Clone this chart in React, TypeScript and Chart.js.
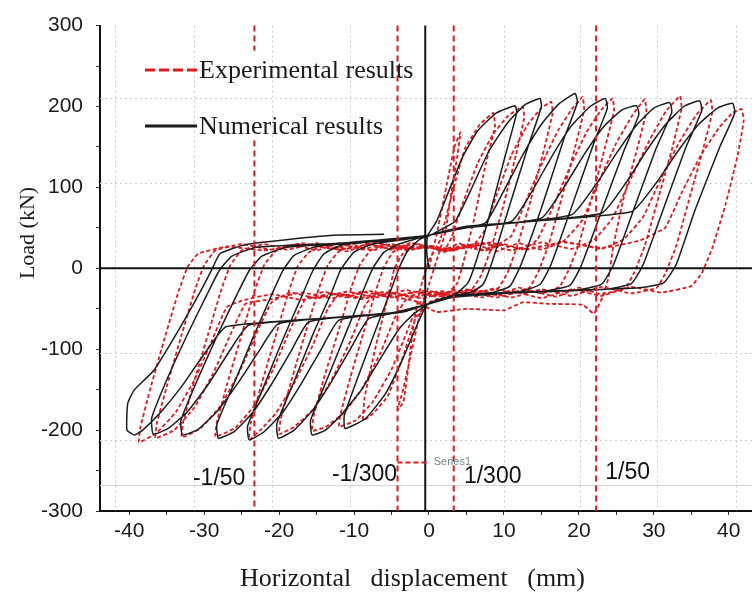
import { useEffect, useRef } from 'react';
import { Chart, registerables } from 'chart.js';

Chart.register(...registerables);

// ---------- axis ranges & ticks ----------
const xRange = [-43.9, 43.1];
const yRange = [-300, 300];
const xLabelStep = 10;
const yLabelStep = 100;

// ---------- reference lines ----------
const gridX = [-41.9, -31.4, -20.9, -10.6, 10, 20.1, 30.4, 40.9];
const gridY = [210, 105, -105, -212];
const faintLineY = -268;
const zeroLineX = -0.5;
// [x, yFrom, yTo]
const driftSegments = [
  [-23.3, 300, 269],
  [-23.3, 158, -300],
  [-4.2, 300, -300],
  [3.3, 300, -300],
  [22.3, 300, -300],
];
const driftLabels = ['-1/50', '-1/300', '1/300', '1/50'];
const driftLabelPos = [
  [-28, -260],
  [-8.6, -255],
  [8.5, -258],
  [26.5, -252],
];
const series1Line = [[-4.2, -240], [-0.3, -240]];

// ---------- numerical results (black) ----------
const numStart = [[0, 0], [-0.3, 20], [-0.2, 40]];
const numCycle1 = [[1, 58], [2.5, 92], [4.5, 138], [6.5, 170], [9, 192], [11.5, 201], [11.7, 192], [10.2, 140], [8.2, 70], [6.5, 15], [5.2, -18], [3.5, -32], [1.5, -38], [-0.3, -45], [-1.5, -68], [-3.5, -112], [-5.8, -155], [-8.5, -186], [-11.2, -198], [-11.3, -182], [-9.5, -135], [-7.2, -78], [-5.2, -30], [-4, 0], [-2.8, 22], [-1.2, 36], [0, 40]];
const numCycle2 = [[2, 50], [3.5, 58], [5.5, 95], [8, 145], [10.5, 180], [12.8, 202], [14.8, 210], [15, 200], [13.2, 150], [10.5, 70], [8.5, 10], [7.2, -20], [5.5, -30], [2.5, -35], [0, -44], [-2, -56], [-4, -75], [-6.5, -112], [-9, -150], [-11.8, -182], [-13.8, -200], [-15.6, -206], [-15.8, -188], [-13.5, -135], [-11, -78], [-8.8, -28], [-7.5, 0], [-6, 20], [-4, 30], [-1.5, 37], [0, 41]];
const numCycle3 = [[3, 48], [7.5, 56], [10, 96], [12.5, 140], [15, 178], [17.3, 203], [19.5, 216], [19.8, 205], [18, 160], [15.2, 80], [12.3, 5], [10.8, -22], [8.5, -30], [4, -34], [0, -44], [-3, -53], [-8, -62], [-10.5, -100], [-13, -140], [-15.5, -175], [-18, -200], [-20.1, -210], [-20.3, -192], [-18, -140], [-15.5, -82], [-13, -30], [-11.8, -2], [-10, 20], [-7.5, 30], [-3, 36], [0, 41]];
const numCycle4 = [[4, 49], [11, 58], [13.8, 96], [16.5, 140], [19, 176], [21.5, 200], [23.5, 210], [23.8, 198], [22, 155], [19, 75], [16.3, 5], [14.8, -20], [12, -29], [6, -32], [2, -37], [0, -44], [-4, -54], [-12, -64], [-14.5, -102], [-17, -142], [-19.5, -178], [-22, -202], [-24, -212], [-24.2, -195], [-22, -145], [-19.5, -88], [-17, -35], [-15.5, -3], [-14, 18], [-11.5, 29], [-6, 34], [0, 41]];
const numCycle5 = [[5, 50], [15, 62], [18, 100], [20.8, 142], [23.3, 175], [25.8, 196], [27.7, 201], [28, 190], [26, 145], [23, 70], [20.3, 3], [18.8, -21], [15.5, -28], [8, -31], [2, -37], [0, -44], [-5, -55], [-16, -66], [-18.5, -104], [-21, -143], [-23.5, -178], [-26, -202], [-28.1, -210], [-28.3, -193], [-26, -142], [-23.5, -86], [-21, -33], [-19.5, -3], [-18, 16], [-15, 27], [-8, 33], [0, 41]];
const numCycle6 = [[5, 50], [19, 66], [22.3, 104], [25, 142], [27.6, 176], [30, 198], [32.1, 205], [32.4, 193], [30.3, 148], [27.3, 72], [24.6, 4], [23, -20], [19.5, -27], [10, -31], [3, -36], [0, -44], [-5, -55], [-20, -68], [-22.8, -104], [-25.5, -142], [-28.2, -176], [-30.8, -199], [-32.9, -206], [-33.1, -188], [-31, -140], [-28.3, -84], [-25.6, -32], [-24, -3], [-22.3, 15], [-19, 26], [-10, 32], [0, 41]];
const numCycle7 = [[5, 51], [23, 68], [26.3, 106], [29, 145], [31.6, 178], [34, 200], [36.1, 207], [36.4, 195], [34.3, 150], [31.3, 74], [28.6, 5], [27, -19], [23.5, -26], [12, -30], [3, -36], [0, -44], [-5, -56], [-24, -70], [-26.8, -105], [-29.5, -144], [-32.2, -177], [-34.8, -198], [-36.8, -205], [-37, -185], [-35, -138], [-32.3, -83], [-29.6, -32], [-28, -3], [-26.3, 15], [-23, 26], [-12, 31], [0, 41]];
const numCycle8 = [[5, 52], [27, 70], [30.5, 108], [33.3, 146], [36, 178], [38.5, 198], [40.5, 204], [40.8, 192], [38.8, 150], [35.5, 72], [33, 5], [31.3, -18], [28, -24], [14, -29], [3, -36], [0, -44], [-5, -56], [-27, -72], [-30, -106], [-33, -146], [-35.8, -178], [-38.2, -200], [-39.3, -206], [-40.3, -200], [-40.2, -167], [-39.3, -150], [-36.7, -126], [-33.2, -73], [-30.4, -27], [-29, -2], [-27.9, 18], [-25, 28], [-22.5, 32], [-12.8, 41], [-6, 42]];

// ---------- experimental results (red dashed) ----------
const expStart = [[0, 0], [1.2, 50], [2.4, 105], [3.4, 150], [4.2, 168], [3.8, 140], [3, 95], [2.2, 45], [1.2, 15], [0, -20], [-1.3, -60], [-2.5, -110], [-3.5, -152], [-4.2, -175], [-3.4, -165], [-2.8, -125], [-2.2, -80], [-1.3, -30], [0, 10]];
const expEarly = [[1.5, 35], [3, 90], [4.8, 148], [6.8, 178], [8.6, 192], [8.8, 175], [7.6, 130], [6, 60], [4.8, 15], [3.8, -18], [2, -35], [0, -42], [-1.8, -62], [-3.5, -110], [-5.5, -158], [-7.5, -180], [-8.8, -188], [-8.6, -160], [-7.2, -100], [-5.6, -40], [-4.6, 0], [-3.5, 18], [-1.5, 30], [0, 26]];
const expCycle1 = [[2, 22], [3, 38], [4.5, 80], [6.5, 130], [8.5, 165], [10.5, 188], [12.5, 200], [12.7, 186], [11.6, 140], [10, 80], [8.3, 25], [7, -8], [5.8, -25], [3.5, -31], [1.5, -28], [0, -33], [-1.5, -45], [-3, -80], [-5, -125], [-7.5, -165], [-9.8, -188], [-12, -196], [-11.8, -180], [-10.5, -135], [-8.6, -75], [-7, -25], [-6, 2], [-4.8, 20], [-3, 28], [-1.5, 24], [0, 27]];
const expCycle2 = [[2, 22], [4, 31], [5.5, 24], [7.3, 45], [9, 90], [11, 140], [13.2, 178], [15, 198], [16.3, 206], [16.5, 192], [15.3, 145], [13.6, 85], [11.8, 28], [10.5, -5], [9.3, -24], [7, -30], [5, -26], [3, -33], [1, -29], [-1, -34], [-3, -38], [-4.5, -60], [-6.5, -105], [-9, -150], [-11.5, -180], [-13.8, -196], [-15.6, -201], [-15.4, -183], [-14, -135], [-12, -75], [-10.3, -22], [-9.2, 5], [-7.8, 22], [-6, 29], [-4, 24], [-2, 31], [0, 26]];
const expCycle3 = [[2, 20], [4.5, 29], [7, 22], [9.5, 31], [11, 40], [12.8, 80], [15, 128], [17.2, 170], [19, 196], [20.5, 212], [20.7, 196], [19.5, 150], [17.8, 90], [16, 30], [14.6, -4], [13.4, -24], [11, -30], [8.5, -25], [6, -32], [3.5, -27], [1, -33], [-2, -29], [-4.5, -35], [-7, -31], [-8.5, -45], [-10.5, -90], [-13, -138], [-15.5, -175], [-18, -196], [-20, -205], [-19.8, -187], [-18.4, -140], [-16.5, -80], [-14.7, -25], [-13.5, 4], [-12, 21], [-10, 28], [-7.5, 22], [-5, 30], [-2.5, 24], [0, 28]];
const expCycle4 = [[2.5, 21], [5, 30], [7.5, 22], [10, 30], [12.5, 23], [14.5, 36], [16.5, 75], [18.8, 125], [21, 168], [23, 196], [24.5, 210], [24.7, 195], [23.5, 150], [21.8, 90], [20, 30], [18.6, -3], [17.4, -23], [15, -31], [12, -24], [9, -33], [6, -26], [3, -34], [0, -28], [-3, -35], [-6, -29], [-9, -36], [-12, -32], [-13.5, -50], [-15.5, -95], [-18, -142], [-20.5, -180], [-22.5, -200], [-24, -212], [-23.8, -192], [-22.4, -145], [-20.5, -85], [-18.7, -28], [-17.5, 3], [-16, 20], [-14, 28], [-11, 21], [-8, 30], [-5, 23], [-2.5, 31], [0, 25]];
const expCycle5 = [[3, 22], [6, 30], [9, 21], [12, 31], [15, 23], [18, 34], [20.5, 60], [22.8, 110], [25, 155], [27.2, 190], [28.8, 209], [29, 194], [27.8, 148], [26, 88], [24.6, 28], [24, -10], [23.2, -35], [22, -56], [20.5, -45], [16, -44], [12.5, -42], [10, -52], [5, -50], [1, -54], [-2, -40], [-5, -35], [-8, -28], [-11, -36], [-14, -29], [-16.5, -38], [-18.5, -75], [-20.8, -125], [-23.2, -168], [-25.8, -197], [-28.5, -208], [-28.3, -190], [-26.9, -142], [-25, -82], [-23.2, -26], [-22, 4], [-20.5, 21], [-18, 29], [-15, 22], [-12, 31], [-9, 23], [-6, 30], [-3, 22], [0, 27]];
const expCycle6 = [[3, 24], [7, 31], [11, 22], [15, 32], [19, 24], [22, 35], [24.5, 62], [27, 112], [29.4, 158], [31.6, 194], [33.5, 213], [33.7, 198], [32.5, 150], [30.7, 90], [28.8, 28], [27.4, -5], [26.2, -24], [23, -32], [20, -24], [17, -35], [13, -27], [9, -36], [5, -28], [1, -35], [-3, -27], [-7, -36], [-11, -29], [-15, -37], [-18.5, -30], [-21, -42], [-23, -80], [-25.3, -128], [-27.8, -170], [-30.5, -198], [-33, -209], [-32.8, -190], [-31.4, -142], [-29.5, -82], [-27.7, -26], [-26.5, 4], [-25, 22], [-22, 30], [-19, 23], [-15, 31], [-11, 24], [-7, 32], [-3, 23], [0, 28]];
const expCycle7 = [[3, 23], [8, 32], [13, 23], [18, 33], [23, 24], [26, 36], [28.6, 64], [31, 112], [33.4, 156], [35.7, 190], [37.6, 208], [37.8, 193], [36.6, 148], [34.8, 88], [33, 28], [31.6, -5], [30.4, -24], [27, -31], [23, -23], [19, -34], [15, -26], [11, -36], [7, -28], [3, -35], [-1, -28], [-5, -36], [-9, -29], [-13, -37], [-17, -30], [-21, -38], [-24.5, -44], [-26.5, -82], [-28.8, -130], [-31.3, -172], [-34, -200], [-36.5, -210], [-36.3, -191], [-34.9, -143], [-33, -82], [-31.2, -26], [-30, 4], [-28.5, 22], [-25, 30], [-21, 23], [-17, 31], [-13, 24], [-9, 32], [-5, 24], [0, 27]];
const expCycle8 = [[3, 22], [8, 31], [13, 24], [18, 32], [23, 25], [28, 34], [31.5, 50], [33.8, 95], [36.3, 140], [38.8, 175], [40.5, 192], [41.7, 197], [42, 183], [41.2, 140], [39.6, 80], [37.8, 25], [36.4, -6], [35, -22], [31, -30], [27, -23], [23, -34], [19, -26], [15, -37], [11, -28], [7, -36], [3, -29], [-1, -37], [-5, -30], [-9, -38], [-13, -31], [-17, -39], [-21, -32], [-25, -40], [-27, -48], [-29, -90], [-31.3, -138], [-33.8, -178], [-36.4, -204], [-38.7, -215], [-38.5, -196], [-37.1, -146], [-35.2, -84], [-33.4, -28], [-32.2, 2], [-30.8, 18], [-27, 27], [-22, 22], [-17, 30], [-12, 23], [-7, 31], [-2, 24], [0, 26]];

const numericalCycles = [numStart, numCycle1, numCycle2, numCycle3, numCycle4, numCycle5, numCycle6, numCycle7, numCycle8];
const experimentalCycles = [expStart, expEarly, expCycle1, expCycle2, expCycle3, expCycle4, expCycle5, expCycle6, expCycle7, expCycle8];

const legendLabels = ['Experimental results', 'Numerical results'];
const xTitleWords = ['Horizontal', 'displacement', '(mm)'];
const yTitle = 'Load (kN)';
const series1Text = 'Series1';

const RED = '#dc1a20';
const BLACK = '#1c1c1c';
const SERIF = '"Liberation Serif", "Times New Roman", serif';
const SANS = '"Liberation Sans", Arial, sans-serif';

const toPts = (cycles: number[][][]) => cycles.flat().map(([x, y]) => ({ x, y }));

const overlay = {
  id: 'overlay',
  beforeDatasetsDraw(chart: any) {
    const { ctx, chartArea: a, scales } = chart;
    const x = scales.x;
    const y = scales.y;
    ctx.save();
    ctx.strokeStyle = '#cdcdcd';
    ctx.lineWidth = 1;
    ctx.setLineDash([2, 3]);
    for (const v of gridX) {
      const px = Math.round(x.getPixelForValue(v)) + 0.5;
      ctx.beginPath(); ctx.moveTo(px, a.top); ctx.lineTo(px, a.bottom); ctx.stroke();
    }
    for (const v of gridY) {
      const py = Math.round(y.getPixelForValue(v)) + 0.5;
      ctx.beginPath(); ctx.moveTo(a.left, py); ctx.lineTo(a.right, py); ctx.stroke();
    }
    ctx.setLineDash([]);
    ctx.strokeStyle = '#d6d6d6';
    const fy = Math.round(y.getPixelForValue(faintLineY)) + 0.5;
    ctx.beginPath(); ctx.moveTo(a.left, fy); ctx.lineTo(a.right, fy); ctx.stroke();
    ctx.restore();
  },
  afterDatasetsDraw(chart: any) {
    const { ctx, chartArea: a, scales } = chart;
    const x = scales.x;
    const y = scales.y;
    ctx.save();
    // zero lines
    ctx.strokeStyle = '#111';
    ctx.lineWidth = 2;
    const y0 = y.getPixelForValue(0);
    ctx.beginPath(); ctx.moveTo(a.left, y0); ctx.lineTo(a.right, y0); ctx.stroke();
    const x0 = x.getPixelForValue(zeroLineX);
    ctx.beginPath(); ctx.moveTo(x0, a.top); ctx.lineTo(x0, a.bottom); ctx.stroke();
    // drift lines
    ctx.strokeStyle = RED;
    ctx.lineWidth = 2;
    ctx.setLineDash([6, 4]);
    for (const [v, y1, y2] of driftSegments) {
      const px = x.getPixelForValue(v);
      ctx.beginPath(); ctx.moveTo(px, y.getPixelForValue(y1)); ctx.lineTo(px, y.getPixelForValue(y2)); ctx.stroke();
    }
    // Series1 marker
    ctx.lineWidth = 2;
    ctx.setLineDash([5, 3]);
    ctx.beginPath();
    ctx.moveTo(x.getPixelForValue(series1Line[0][0]), y.getPixelForValue(series1Line[0][1]));
    ctx.lineTo(x.getPixelForValue(series1Line[1][0]), y.getPixelForValue(series1Line[1][1]));
    ctx.stroke();
    ctx.setLineDash([]);
    ctx.fillStyle = '#6f8686';
    ctx.font = `11px ${SANS}`;
    ctx.textBaseline = 'middle';
    ctx.textAlign = 'left';
    ctx.fillText(series1Text, x.getPixelForValue(series1Line[1][0]) + 7, y.getPixelForValue(series1Line[1][1]));
    // drift labels
    ctx.fillStyle = '#111';
    ctx.font = `23px ${SANS}`;
    ctx.textAlign = 'center';
    driftLabels.forEach((t, i) => {
      ctx.fillText(t, x.getPixelForValue(driftLabelPos[i][0]), y.getPixelForValue(driftLabelPos[i][1]));
    });
    // legend
    ctx.lineWidth = 3;
    ctx.strokeStyle = RED;
    ctx.setLineDash([10, 4]);
    ctx.beginPath(); ctx.moveTo(145, 70); ctx.lineTo(197, 70); ctx.stroke();
    ctx.setLineDash([]);
    ctx.strokeStyle = BLACK;
    ctx.beginPath(); ctx.moveTo(145, 126); ctx.lineTo(197, 126); ctx.stroke();
    ctx.fillStyle = '#1a1a1a';
    ctx.font = `26px ${SERIF}`;
    ctx.textAlign = 'left';
    ctx.textBaseline = 'alphabetic';
    ctx.fillText(legendLabels[0], 199, 78);
    ctx.fillText(legendLabels[1], 199, 134);
    ctx.restore();
  },
  afterDraw(chart: any) {
    const { ctx } = chart;
    ctx.save();
    ctx.fillStyle = '#1a1a1a';
    // x title
    ctx.font = `26px ${SERIF}`;
    ctx.textBaseline = 'alphabetic';
    ctx.textAlign = 'left';
    const widths = xTitleWords.map((w) => ctx.measureText(w).width);
    const total = 345;
    const gap = (total - widths.reduce((s, w) => s + w, 0)) / (xTitleWords.length - 1);
    let cx = 240;
    xTitleWords.forEach((w, i) => {
      ctx.fillText(w, cx, 586);
      cx += widths[i] + gap;
    });
    // y title
    ctx.translate(28, 233);
    ctx.rotate(-Math.PI / 2);
    ctx.font = `22px ${SERIF}`;
    ctx.textAlign = 'center';
    ctx.textBaseline = 'middle';
    ctx.fillText(yTitle, 0, 0);
    ctx.restore();
  },
};

export default function App() {
  const ref = useRef<HTMLCanvasElement | null>(null);
  useEffect(() => {
    if (!ref.current) return;
    const chart = new Chart(ref.current, {
      type: 'scatter',
      data: {
        datasets: [
          {
            label: legendLabels[1],
            data: toPts(numericalCycles),
            showLine: true,
            borderColor: BLACK,
            borderWidth: 1.5,
            pointRadius: 0,
            tension: 0.15,
            fill: false,
          },
          {
            label: legendLabels[0],
            data: toPts(experimentalCycles),
            showLine: true,
            borderColor: RED,
            borderWidth: 1.8,
            borderDash: [4, 2.5],
            pointRadius: 0,
            tension: 0.1,
            fill: false,
          },
        ],
      },
      options: {
        responsive: false,
        animation: false,
        devicePixelRatio: 1,
        layout: { padding: { top: 25, left: 0, right: 0, bottom: 0 } },
        plugins: { legend: { display: false }, tooltip: { enabled: false }, title: { display: false } },
        scales: {
          x: {
            type: 'linear',
            min: xRange[0],
            max: xRange[1],
            afterFit: (s: any) => { s.height = 81; },
            border: { display: true, color: '#111', width: 2 },
            grid: { drawOnChartArea: false, drawTicks: true, tickLength: 4, tickColor: '#333' },
            ticks: {
              stepSize: 5,
              includeBounds: false,
              autoSkip: false,
              maxRotation: 0,
              padding: 4,
              color: '#1a1a1a',
              font: { family: SANS, size: 21 },
              callback: (v: any) => (Number(v) % xLabelStep === 0 ? String(v) : ''),
            },
          },
          y: {
            type: 'linear',
            min: yRange[0],
            max: yRange[1],
            afterFit: (s: any) => { s.width = 100; },
            border: { display: true, color: '#111', width: 2 },
            grid: { drawOnChartArea: false, drawTicks: true, tickLength: 4, tickColor: '#333' },
            ticks: {
              stepSize: 50,
              autoSkip: false,
              padding: 13,
              color: '#1a1a1a',
              font: { family: SANS, size: 21 },
              callback: (v: any) => (Number(v) % yLabelStep === 0 ? String(v) : ''),
            },
          },
        },
      },
      plugins: [overlay],
    });
    return () => chart.destroy();
  }, []);
  return (
    <div style={{ position: 'absolute', left: 0, top: 0, width: 752, height: 592, background: '#fff' }}>
      <canvas ref={ref} width={752} height={592} />
    </div>
  );
}
